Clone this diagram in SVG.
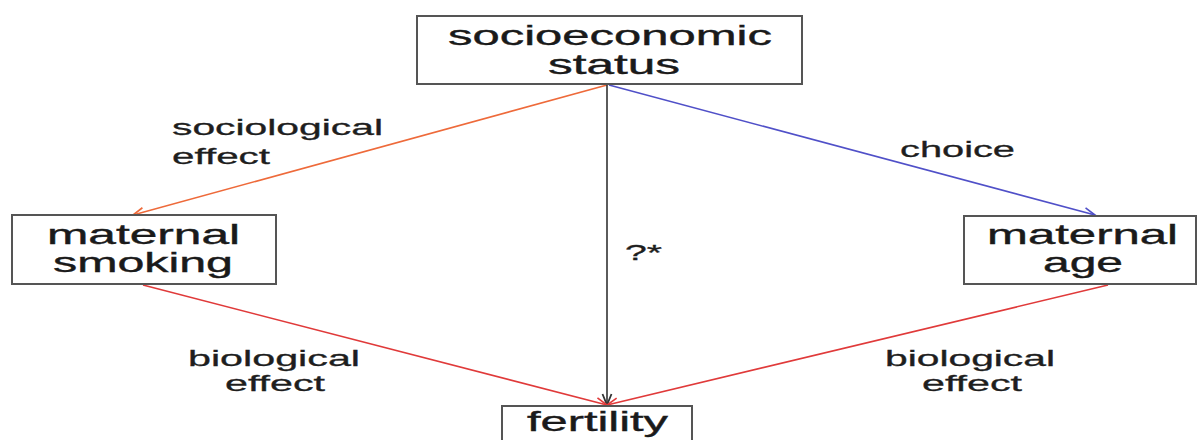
<svg xmlns="http://www.w3.org/2000/svg" width="1198" height="440" viewBox="0 0 1198 440">
<defs>
<style>
.box{fill:#fff;stroke:#555;stroke-width:2}
.t{font-family:"Liberation Sans",Arial,sans-serif;font-size:28px;fill:#1a1a1a;stroke:#1a1a1a;stroke-width:0.4}
.l{font-family:"Liberation Sans",Arial,sans-serif;font-size:22px;fill:#1e1e1e;stroke:#1e1e1e;stroke-width:0.3}
.e{fill:none;stroke-width:1.6}
</style>
<marker id="aO" markerUnits="userSpaceOnUse" markerWidth="14" markerHeight="12" refX="12" refY="6" orient="auto"><path d="M1,1.5 L12,6 L1,10.5" fill="none" stroke="#ee6a3a" stroke-width="1.6"/></marker>
<marker id="aB" markerUnits="userSpaceOnUse" markerWidth="14" markerHeight="12" refX="12" refY="6" orient="auto"><path d="M1,1.5 L12,6 L1,10.5" fill="none" stroke="#5050c8" stroke-width="1.6"/></marker>
<marker id="aK" markerUnits="userSpaceOnUse" markerWidth="14" markerHeight="12" refX="12" refY="6" orient="auto"><path d="M1,1.5 L12,6 L1,10.5" fill="none" stroke="#333" stroke-width="1.8"/></marker>
<marker id="aR" markerUnits="userSpaceOnUse" markerWidth="14" markerHeight="12" refX="12" refY="6" orient="auto"><path d="M1,1.5 L12,6 L1,10.5" fill="none" stroke="#e03a3a" stroke-width="1.6"/></marker>
</defs>
<rect width="1198" height="440" fill="#fff"/>
<g id="connectors">
<line class="e" x1="607" y1="85" x2="133" y2="215" stroke="#ee6a3a" marker-end="url(#aO)"/>
<line class="e" x1="609" y1="85" x2="1095" y2="215" stroke="#5050c8" marker-end="url(#aB)"/>
<line class="e" x1="607" y1="85" x2="607" y2="405" stroke="#333" stroke-width="2" marker-end="url(#aK)"/>
<line class="e" x1="143" y1="285" x2="607" y2="405" stroke="#e03a3a" marker-end="url(#aR)"/>
<line class="e" x1="1108" y1="285" x2="607" y2="405" stroke="#e03a3a" marker-end="url(#aR)"/>
<text class="l" x="172" y="135" textLength="211" lengthAdjust="spacingAndGlyphs">sociological</text>
<text class="l" x="172" y="164" textLength="98" lengthAdjust="spacingAndGlyphs">effect</text>
<text class="l" x="900" y="157" textLength="115" lengthAdjust="spacingAndGlyphs">choice</text>
<text class="l" x="625" y="260" textLength="37" lengthAdjust="spacingAndGlyphs">?*</text>
<text class="l" x="188" y="366" textLength="172" lengthAdjust="spacingAndGlyphs">biological</text>
<text class="l" x="225" y="391" textLength="100" lengthAdjust="spacingAndGlyphs">effect</text>
<text class="l" x="885" y="366" textLength="170" lengthAdjust="spacingAndGlyphs">biological</text>
<text class="l" x="922" y="391" textLength="100" lengthAdjust="spacingAndGlyphs">effect</text>
</g>
<g id="ses">
<rect class="box" x="417" y="16" width="385" height="68"/>
<text class="t" x="448" y="45" textLength="324" lengthAdjust="spacingAndGlyphs">socioeconomic</text>
<text class="t" x="548" y="74" textLength="132" lengthAdjust="spacingAndGlyphs">status</text>
</g>
<g id="smoking">
<rect class="box" x="12" y="215" width="264" height="69"/>
<text class="t" x="47" y="244" textLength="193" lengthAdjust="spacingAndGlyphs">maternal</text>
<text class="t" x="53" y="272" textLength="180" lengthAdjust="spacingAndGlyphs">smoking</text>
</g>
<g id="age">
<rect class="box" x="964" y="216" width="232" height="68"/>
<text class="t" x="987" y="244" textLength="191" lengthAdjust="spacingAndGlyphs">maternal</text>
<text class="t" x="1043" y="272" textLength="80" lengthAdjust="spacingAndGlyphs">age</text>
</g>
<g id="fertility">
<rect class="box" x="502" y="406" width="190" height="50"/>
<text class="t" x="527" y="431" textLength="141" lengthAdjust="spacingAndGlyphs">fertility</text>
</g>
</svg>
